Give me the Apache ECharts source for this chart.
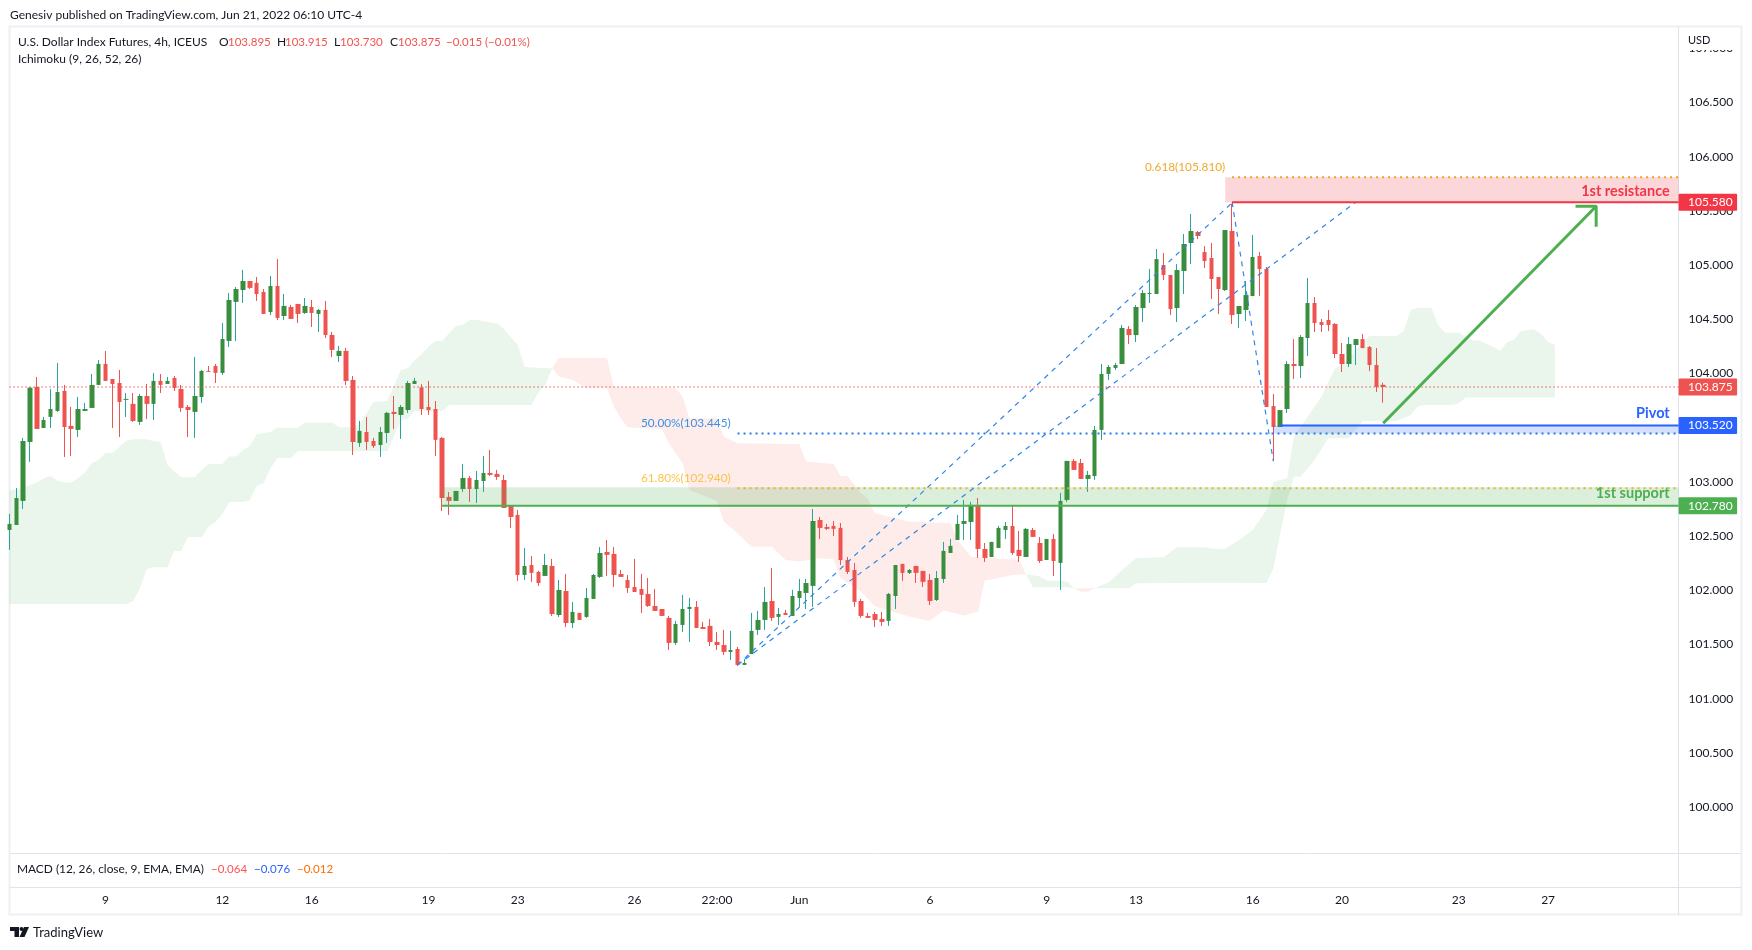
<!DOCTYPE html>
<html>
<head>
<meta charset="utf-8">
<title>U.S. Dollar Index Futures</title>
<script src="https://cdn.jsdelivr.net/npm/echarts@6/dist/echarts.min.js"></script>
<style>
  html, body { margin: 0; padding: 0; background: #fff; }
  #chart { width: 1752px; height: 950px; }
</style>
</head>
<body>
<div id="chart"></div>
<script>
// candles, oldest first (4h bars)
var opens = [
  102.556,102.602,102.824,103.368,103.875,103.497,103.599,103.654,103.839,103.516,
  103.479,103.654,103.682,103.894,104.088,103.949,103.912,103.756,103.719,103.553,
  103.792,103.719,103.931,103.903,103.958,103.857,103.691,103.645,103.783,104.023,
  104.069,104.005,104.300,104.660,104.770,104.853,104.835,104.752,104.567,104.807,
  104.530,104.613,104.641,104.558,104.613,104.549,104.586,104.355,104.161,104.208,
  103.940,103.359,103.460,103.377,103.340,103.451,103.645,103.617,103.663,103.903,
  103.872,103.691,103.672,103.405,102.861,102.824,102.934,103.036,102.934,103.008,
  103.082,103.073,103.017,102.778,102.695,102.141,102.233,102.169,102.132,102.224,
  101.772,101.993,101.698,101.791,101.754,101.920,102.123,102.353,102.335,102.150,
  102.095,102.030,102.012,101.966,101.855,101.827,101.745,101.514,101.680,101.827,
  101.846,101.661,101.671,101.523,101.495,101.431,101.458,101.311,101.412,101.634,
  101.726,101.901,101.754,101.791,101.763,101.929,101.975,102.040,102.648,102.584,
  102.593,102.575,102.279,102.187,101.901,101.763,101.781,101.735,101.717,101.947,
  102.243,102.160,102.224,102.178,102.095,101.910,102.104,102.344,102.464,102.612,
  102.630,102.787,102.381,102.307,102.390,102.556,102.593,102.372,102.307,102.556,
  102.436,102.279,102.473,102.252,102.833,103.193,103.174,103.027,103.054,103.479,
  103.995,104.051,104.087,104.410,104.354,104.603,104.733,104.733,105.000,104.908,
  104.603,104.945,105.203,105.305,105.120,105.065,104.889,104.769,105.314,104.548,
  104.585,104.714,105.083,104.963,103.699,103.506,103.672,104.087,104.068,104.327,
  104.650,104.474,104.493,104.456,104.179,104.087,104.262,104.317,104.244,104.078,103.895
];
var closes = [
  102.612,102.851,103.377,103.869,103.488,103.571,103.672,103.829,103.506,103.488,
  103.672,103.672,103.894,104.088,103.931,103.903,103.737,103.765,103.562,103.792,
  103.719,103.931,103.894,103.931,103.866,103.682,103.663,103.792,104.023,104.014,
  104.005,104.318,104.678,104.779,104.853,104.789,104.733,104.549,104.807,104.512,
  104.623,104.503,104.549,104.623,104.558,104.586,104.355,104.217,104.208,103.931,
  103.368,103.470,103.368,103.331,103.460,103.636,103.626,103.691,103.912,103.931,
  103.672,103.663,103.387,102.851,102.824,102.916,103.036,102.934,103.017,103.082,
  103.064,103.045,102.759,102.676,102.141,102.224,102.160,102.067,102.233,101.781,
  102.003,101.698,101.800,101.726,101.929,102.141,102.344,102.326,102.141,102.123,
  102.021,101.984,101.957,101.855,101.809,101.763,101.514,101.689,101.827,101.846,
  101.652,101.643,101.523,101.495,101.431,101.449,101.311,101.329,101.625,101.726,
  101.892,101.745,101.781,101.772,101.947,101.993,102.067,102.639,102.575,102.566,
  102.566,102.279,102.169,101.892,101.763,101.745,101.726,101.708,101.966,102.233,
  102.160,102.187,102.160,102.077,101.901,102.113,102.363,102.409,102.612,102.639,
  102.787,102.381,102.298,102.446,102.575,102.593,102.344,102.316,102.566,102.492,
  102.270,102.473,102.270,102.824,103.193,103.110,103.027,103.064,103.479,103.995,
  104.060,104.078,104.419,104.354,104.613,104.742,104.742,105.055,104.908,104.594,
  104.954,105.194,105.314,105.268,105.037,104.871,104.779,105.323,104.539,104.622,
  104.723,105.074,104.963,103.690,103.506,103.662,104.087,104.068,104.336,104.650,
  104.465,104.447,104.447,104.179,104.087,104.271,104.317,104.234,104.078,103.875,103.875
];
var lows = [
  102.372,102.602,102.750,103.184,103.488,103.497,103.497,103.645,103.230,103.239,
  103.414,103.654,103.682,103.894,103.931,103.497,103.414,103.599,103.553,103.525,
  103.580,103.571,103.820,103.903,103.839,103.645,103.414,103.405,103.728,104.014,
  103.912,103.986,104.244,104.300,104.650,104.779,104.669,104.549,104.540,104.494,
  104.494,104.503,104.466,104.549,104.429,104.383,104.327,104.152,104.106,103.894,
  103.248,103.322,103.294,103.313,103.230,103.359,103.488,103.396,103.636,103.903,
  103.617,103.617,103.239,102.732,102.695,102.824,102.907,102.815,102.805,102.907,
  103.054,103.019,102.759,102.575,102.086,102.095,102.077,102.040,102.132,101.763,
  101.754,101.661,101.652,101.726,101.745,101.920,102.113,102.132,102.030,102.123,
  101.975,101.984,101.791,101.846,101.809,101.763,101.449,101.495,101.615,101.523,
  101.652,101.643,101.486,101.449,101.403,101.357,101.302,101.311,101.412,101.588,
  101.634,101.717,101.680,101.772,101.763,101.846,101.827,101.846,102.473,102.556,
  102.501,102.233,102.150,101.846,101.745,101.745,101.661,101.671,101.671,101.827,
  102.086,102.150,102.067,102.030,101.864,101.901,102.067,102.344,102.464,102.464,
  102.464,102.298,102.261,102.307,102.390,102.473,102.326,102.261,102.307,102.492,
  102.252,102.279,102.132,102.003,102.815,103.110,103.027,102.907,103.019,103.387,
  103.940,104.032,104.087,104.271,104.290,104.474,104.650,104.733,104.862,104.539,
  104.474,104.733,105.009,105.240,104.972,104.686,104.548,104.760,104.456,104.419,
  104.484,104.714,104.714,103.690,103.192,103.506,103.635,103.949,103.958,104.161,
  104.382,104.382,104.391,104.142,104.013,104.059,104.078,104.234,104.022,103.829,103.730
];
var highs = [
  102.704,102.944,103.405,103.872,103.968,103.599,103.857,104.097,103.894,103.691,
  103.783,103.728,103.995,104.125,104.208,103.949,104.032,103.820,103.820,103.811,
  103.903,104.005,103.995,103.968,103.977,103.894,103.709,104.152,104.032,104.069,
  104.088,104.466,104.743,104.798,104.955,104.853,104.890,104.779,104.899,105.056,
  104.733,104.632,104.641,104.696,104.678,104.595,104.669,104.383,104.254,104.235,
  103.977,103.562,103.599,103.405,103.506,103.645,103.792,103.709,103.931,103.958,
  103.900,103.931,103.746,103.414,102.907,102.916,103.165,103.054,103.101,103.239,
  103.294,103.110,103.064,102.778,102.741,102.390,102.316,102.178,102.335,102.289,
  102.095,102.150,101.892,101.791,102.021,102.150,102.399,102.464,102.399,102.187,
  102.141,102.289,102.150,102.113,102.012,101.827,101.763,101.717,101.957,101.929,
  101.901,101.708,101.735,101.615,101.634,101.625,101.477,101.366,101.791,101.809,
  102.030,102.206,101.837,101.818,102.003,102.104,102.104,102.750,102.676,102.612,
  102.639,102.621,102.307,102.252,101.920,101.791,101.800,101.800,101.975,102.233,
  102.243,102.196,102.224,102.178,102.150,102.178,102.446,102.473,102.695,102.833,
  102.815,102.851,102.436,102.446,102.593,102.630,102.778,102.547,102.575,102.575,
  102.492,102.473,102.519,102.898,103.193,103.211,103.211,103.101,103.516,104.088,
  104.078,104.097,104.447,104.437,104.631,104.770,104.963,105.148,105.111,104.908,
  105.009,105.286,105.471,105.314,105.175,105.203,104.889,105.323,105.563,104.622,
  104.853,105.277,105.120,104.982,103.810,103.662,104.115,104.317,104.354,104.880,
  104.705,104.502,104.585,104.465,104.281,104.336,104.317,104.364,104.253,104.234,103.915
];

// ichimoku cloud outlines as [bar, price]
var greenCloud1Top = [[0,102.919],[1,102.931],[3,102.968],[4,102.993],[5,103.033],[6,103.054],[7,103.011],[8,102.993],[9,102.993],[10,103.033],[11,103.088],[12,103.171],[13,103.202],[14,103.267],[15,103.267],[16,103.322],[17,103.377],[18,103.393],[20,103.393],[21,103.374],[22,103.371],[23,103.156],[25,103.042],[27,103.042],[28,103.110],[29,103.165],[31,103.165],[32,103.233],[33,103.233],[34,103.294],[35,103.331],[36,103.439],[38,103.460],[39,103.500],[42,103.500],[43,103.546],[47,103.546],[48,103.503],[50,103.503],[51,103.534],[53,103.737],[55,103.746],[57,104.032],[58,104.048],[59,104.124],[60,104.177],[61,104.247],[62,104.300],[63,104.300],[64,104.371],[65,104.438],[66,104.450],[67,104.494],[68,104.494],[71,104.460],[72,104.410],[73,104.334],[74,104.263],[75,104.060],[78,104.048],[79,104.048]];
var greenCloud1Bottom = [[0,101.874],[17,101.874],[18,101.898],[19,102.021],[20,102.197],[21,102.212],[23,102.212],[24,102.363],[25,102.363],[26,102.492],[28,102.492],[29,102.587],[30,102.630],[31,102.701],[32,102.815],[34,102.815],[35,102.833],[36,102.962],[37,102.987],[38,103.125],[39,103.220],[41,103.220],[42,103.285],[55,103.285],[56,103.423],[57,103.565],[58,103.583],[59,103.654],[63,103.654],[64,103.709],[76,103.709],[77,103.823],[78,103.894],[79,104.048]];
var redCloud1Top = [[79,104.048],[80,104.143],[87,104.143],[88,103.878],[97,103.863],[98,103.786],[99,103.586],[103,103.586],[104,103.417],[106,103.356],[115,103.350],[116,103.187],[120,103.165],[121,103.054],[122,103.054],[124,102.894],[125,102.839],[126,102.710],[131,102.633],[137,102.618],[138,102.464],[140,102.310],[147,102.279],[148,102.147]];
var redCloud1Bottom = [[79,104.048],[80,103.971],[82,103.940],[84,103.863],[87,103.863],[88,103.694],[89,103.586],[90,103.503],[95,103.485],[96,103.356],[98,103.171],[99,102.925],[103,102.824],[104,102.633],[106,102.525],[108,102.402],[111,102.402],[113,102.279],[115,102.264],[118,102.295],[120,102.285],[121,102.110],[124,101.987],[126,101.849],[131,101.757],[134,101.717],[136,101.812],[139,101.766],[141,101.803],[142,102.089],[144,102.113],[146,102.141],[148,102.147]];
var greenCloud2Top = [[148,102.147],[150,102.126],[151,102.089],[154,102.080],[155,102.018]];
var greenCloud2Bottom = [[148,102.147],[149,102.027],[154,102.027],[155,102.018]];
var redCloud2Top = [[155,102.018],[158,102.018]];
var redCloud2Bottom = [[155,102.018],[156,101.987],[157,101.987],[158,102.018]];
var greenCloud3Top = [[158,102.018],[159,102.049],[160,102.070],[162,102.187],[164,102.295],[168,102.304],[170,102.396],[174,102.396],[176,102.378],[177,102.381],[179,102.464],[181,102.556],[183,102.740],[184,102.999],[186,103.033],[187,103.416],[189,103.601],[191,103.786],[193,104.050],[194,104.078],[196,104.216],[198,104.346],[202,104.346],[203,104.395],[204,104.585],[205,104.607],[207,104.607],[208,104.447],[209,104.376],[211,104.376],[213,104.303],[214,104.303],[216,104.247],[217,104.207],[218,104.287],[219,104.309],[220,104.389],[222,104.407],[223,104.364],[224,104.287],[225,104.263]];
var greenCloud3Bottom = [[158,102.018],[163,102.018],[164,102.065],[176,102.070],[183,102.067],[184,102.200],[186,102.833],[187,103.047],[188,103.047],[190,103.202],[192,103.402],[195,103.402],[197,103.562],[202,103.562],[204,103.617],[205,103.694],[206,103.709],[210,103.709],[211,103.725],[212,103.777],[225,103.777]];

// drawn levels
var lastPrice = 103.875;
var resistance = 105.58;
var fibResistance = 105.81;
var pivot = 103.52;
var fib50 = 103.445;
var fib618 = 102.94;
var support = 102.78;
var supportTop = 102.95;

// fib legs and the target arrow, [bar, price]
var legUp1 = [[106,101.31],[178,105.575]];
var legUp2 = [[106,101.31],[196,105.58]];
var legDown = [[178,105.58],[184,103.19]];
var arrowShaft = [[200,103.54],[231,105.543]];
var arrowHead = [[228,105.543],[231,105.543],[231,105.354]];

// axes
var barCount = 244;
var priceMin = 99.576;
var priceMax = 107.196;
var priceTicks = [100,100.5,101,101.5,102,102.5,103,103.5,104,104.5,105,105.5,106,106.5,107];
var tickBars = [14,31,44,61,74,91,103,115,134,151,164,181,194,211,224];
var tickLabels = ['9','12','16','19','23','26','22:00','Jun','6','9','13','16','20','23','27'];

var font = 'Lato, "Noto Sans", sans-serif';
var ink = '#131722';
var green = '#4caf50';
var red = '#f23645';
var blue = '#2962ff';

var categories = [];
for (var b = 0; b < barCount; b++) categories.push(String(b));

var wickData = opens.map(function (o, i) { return [o, closes[i], lows[i], highs[i]]; });
var bodyData = opens.map(function (o, i) {
  return [o, closes[i], Math.min(o, closes[i]), Math.max(o, closes[i])];
});

function outline(top, bottom) {
  return top.concat(bottom.slice().reverse());
}
function band(fromBar, p1, p2) {
  return [[fromBar, p1], [barCount - 1, p1], [barCount - 1, p2], [fromBar, p2]];
}

// filled shapes: cloud pieces and the level zones
function polygons(shapes, z) {
  return {
    type: 'custom',
    clip: true,
    silent: true,
    z: z,
    data: shapes.map(function (s, i) { return [i]; }),
    renderItem: function (params, api) {
      var s = shapes[params.dataIndex];
      return {
        type: 'polygon',
        shape: { points: s.points.map(function (p) { return api.coord(p); }) },
        style: { fill: s.color }
      };
    }
  };
}

function line(points, color, width, dash, z) {
  return {
    type: 'line',
    data: points,
    symbol: 'none',
    silent: true,
    z: z,
    lineStyle: { color: color, width: width, type: dash || 'solid', cap: 'butt' }
  };
}

// texts tied to a bar and price
var notes = [
  { bar: 177, price: fibResistance, dy: -10, text: '0.618(105.810)', color: '#f0a92e' },
  { bar: 105, price: fib50, dy: -10, text: '50.00%(103.445)', color: '#3d8fe6' },
  { bar: 105, price: fib618, dy: -10, text: '61.80%(102.940)', color: '#fbc34a' },
  { bar: 242, price: resistance, dy: -11, text: '1st resistance', color: red, bold: true },
  { bar: 242, price: pivot, dy: -12, text: 'Pivot', color: blue, bold: true },
  { bar: 242, price: support, dy: -12, text: '1st support', color: green, bold: true }
];
var noteSeries = {
  type: 'custom',
  silent: true,
  z: 20,
  data: notes.map(function (n, i) { return [i]; }),
  renderItem: function (params, api) {
    var n = notes[params.dataIndex];
    var p = api.coord([n.bar, n.price]);
    return {
      type: 'text',
      style: {
        x: p[0] - (n.bold ? 2 : 0), y: p[1] + n.dy, text: n.text, fill: n.color, align: 'right', verticalAlign: 'middle',
        font: n.bold ? 'bold 14.5px ' + font : '11.8px ' + font
      }
    };
  }
};

// price tags on the axis
var tags = [
  { price: resistance, color: red },
  { price: lastPrice, color: '#ef5350' },
  { price: pivot, color: blue },
  { price: support, color: green }
];
var tagSeries = {
  type: 'custom',
  silent: true,
  z: 30,
  clip: false,
  data: tags.map(function (t, i) { return [i]; }),
  renderItem: function (params, api) {
    var t = tags[params.dataIndex];
    var p = api.coord([barCount - 1, t.price]);
    return {
      type: 'group',
      children: [
        { type: 'rect', shape: { x: p[0], y: p[1] - 8.5, width: 58.5, height: 17, r: 1 }, style: { fill: t.color } },
        { type: 'text', style: { x: 1688, y: p[1], text: t.price.toFixed(3), fill: '#fff', font: '12px ' + font, verticalAlign: 'middle' } }
      ]
    };
  }
};

function label(x, y, text, color, size) {
  return {
    type: 'text', x: x, y: y, z: 50, silent: true,
    style: { text: text, fill: color || ink, font: (size || 12) + 'px ' + font, verticalAlign: 'middle' }
  };
}
function rule(x1, y1, x2, y2) {
  return { type: 'line', z: 1, silent: true, shape: { x1: x1, y1: y1, x2: x2, y2: y2 }, style: { stroke: '#e0e3eb', lineWidth: 1 } };
}

var valueRed = '#f05350';
var chrome = [
  { type: 'rect', z: 0, silent: true, shape: { x: 9.5, y: 26.5, width: 1732, height: 888 }, style: { fill: 'none', stroke: '#eeeff4', lineWidth: 2 } },
  rule(1678.5, 27, 1678.5, 915),
  rule(10, 853.5, 1741, 853.5),
  rule(10, 887.5, 1741, 887.5),
  { type: 'rect', z: 40, silent: true, shape: { x: 1680, y: 28, width: 60, height: 22 }, style: { fill: '#fff' } },
  label(10, 15, 'Genesiv published on TradingView.com, Jun 21, 2022 06:10 UTC-4'),
  label(18, 42, 'U.S. Dollar Index Futures, 4h, ICEUS'),
  label(219, 42, 'O'), label(228, 42, '103.895', valueRed, 11.5),
  label(277, 42, 'H'), label(285, 42, '103.915', valueRed, 11.5),
  label(334, 42, 'L'), label(340, 42, '103.730', valueRed, 11.5),
  label(390, 42, 'C'), label(398, 42, '103.875', valueRed, 11.5),
  label(446, 42, '\u22120.015 (\u22120.01%)', valueRed, 11.5),
  label(18, 59, 'Ichimoku (9, 26, 52, 26)'),
  label(17, 869, 'MACD (12, 26, close, 9, EMA, EMA)', ink, 11.9),
  label(211, 869, '\u22120.064', '#ff5252', 11.5),
  label(254, 869, '\u22120.076', blue, 11.5),
  label(297, 869, '\u22120.012', '#ff6d00', 11.5),
  label(1688, 40, 'USD', ink, 11),
  { type: 'polygon', silent: true, shape: { points: [[10,927],[19,927],[19,937],[14.5,937],[14.5,931],[10,931]] }, style: { fill: ink } },
  { type: 'circle', silent: true, shape: { cx: 21.5, cy: 929, r: 2 }, style: { fill: ink } },
  { type: 'polygon', silent: true, shape: { points: [[24,927],[29,927],[24.5,937],[19.5,937]] }, style: { fill: ink } },
  label(33, 933, 'TradingView', ink, 13)
];

var chart = echarts.init(document.getElementById('chart'));
chart.setOption({
  animation: false,
  backgroundColor: '#fff',
  graphic: { elements: chrome },
  grid: { left: 9.4, top: 27, width: 1669.2, height: 826 },
  xAxis: {
    type: 'category',
    data: categories,
    boundaryGap: false,
    axisLine: { show: false },
    axisTick: { show: false },
    splitLine: { show: false },
    axisLabel: {
      margin: 41,
      color: ink,
      fontFamily: font,
      fontSize: 12,
      interval: function (i) { return tickBars.indexOf(i) >= 0; },
      formatter: function (v) { return tickLabels[tickBars.indexOf(Number(v))]; }
    }
  },
  yAxis: {
    type: 'value',
    position: 'right',
    min: priceMin,
    max: priceMax,
    axisLine: { show: false },
    axisTick: { show: false },
    splitLine: { show: false },
    axisLabel: {
      customValues: priceTicks,
      margin: 10,
      color: ink,
      fontFamily: font,
      fontSize: 12,
      formatter: function (v) { return v.toFixed(3); }
    }
  },
  series: [
    polygons([
      { points: outline(greenCloud1Top, greenCloud1Bottom), color: 'rgba(67,160,71,0.11)' },
      { points: outline(redCloud1Top, redCloud1Bottom), color: 'rgba(244,67,54,0.1)' },
      { points: outline(greenCloud2Top, greenCloud2Bottom), color: 'rgba(67,160,71,0.11)' },
      { points: outline(redCloud2Top, redCloud2Bottom), color: 'rgba(244,67,54,0.1)' },
      { points: outline(greenCloud3Top, greenCloud3Bottom), color: 'rgba(67,160,71,0.11)' }
    ], 1),
    {
      type: 'candlestick', data: wickData, barWidth: 1, z: 3, silent: true,
      itemStyle: { color: '#26a69a', color0: '#ef5350', borderColor: '#26a69a', borderColor0: '#ef5350', borderWidth: 1 }
    },
    {
      type: 'candlestick', data: bodyData, barWidth: 5, z: 4, silent: true,
      itemStyle: { color: '#388e3c', color0: '#ef5350', borderColor: '#388e3c', borderColor0: '#ef5350', borderWidth: 0 }
    },
    polygons([
      { points: band(177, fibResistance, resistance), color: 'rgba(242,54,69,0.2)' },
      { points: band(184, pivot, fib50), color: 'rgba(41,98,255,0.2)' },
      { points: band(63, supportTop, support), color: 'rgba(76,175,80,0.2)' }
    ], 5),
    line([[0, lastPrice], [barCount - 1, lastPrice]], '#ef5350', 1, [1.5, 2.5], 6),
    line([[178, fibResistance], [barCount - 1, fibResistance]], '#f0a020', 2, [2, 4], 6),
    line([[106, fib50], [barCount - 1, fib50]], '#2979e4', 2, [2, 4], 6),
    line([[106, fib618], [barCount - 1, fib618]], '#dcb92c', 2, [2, 4], 6),
    line(legUp1, '#2e86e6', 1.2, [5, 5], 6),
    line(legUp2, '#2e86e6', 1.2, [5, 5], 6),
    line(legDown, '#2e86e6', 1.2, [5, 5], 6),
    line([[178, resistance], [barCount - 1, resistance]], red, 2, null, 7),
    line([[185, pivot], [barCount - 1, pivot]], blue, 2, null, 7),
    line([[63, support], [barCount - 1, support]], green, 2, null, 7),
    line(arrowShaft, green, 3, null, 8),
    line(arrowHead, green, 3, null, 8),
    noteSeries,
    tagSeries
  ]
});
</script>
</body>
</html>
